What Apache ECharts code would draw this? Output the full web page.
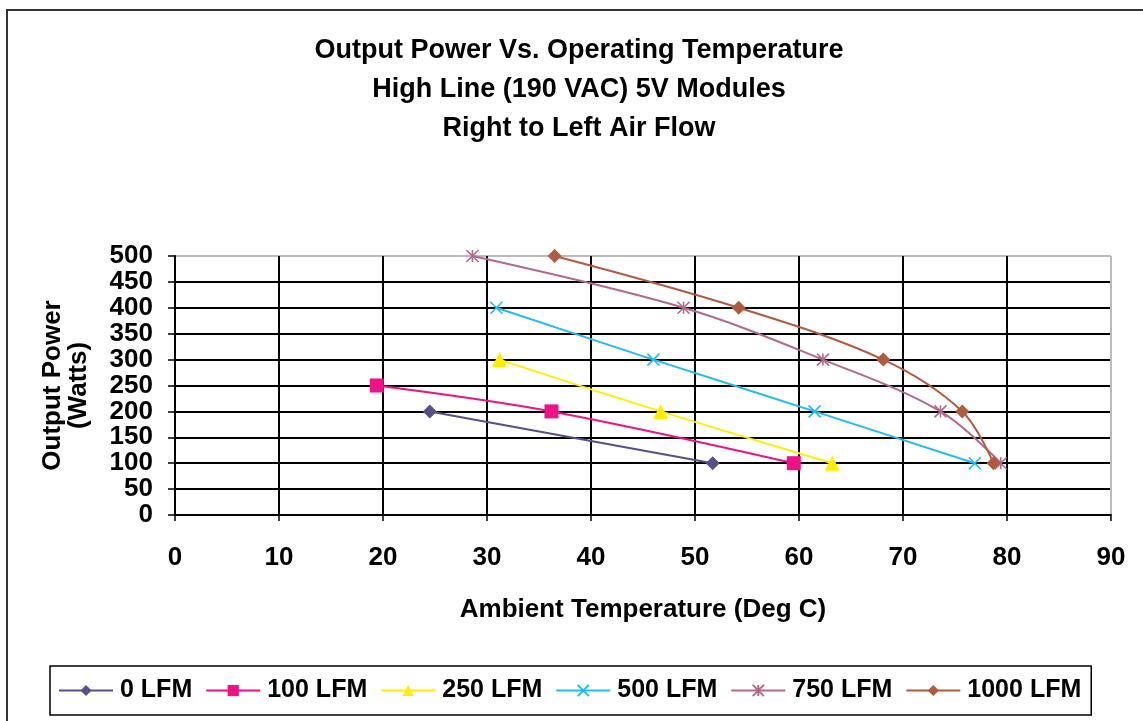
<!DOCTYPE html>
<html>
<head>
<meta charset="utf-8">
<script src="https://cdn.jsdelivr.net/npm/echarts@6/dist/echarts.min.js"></script>
<style>
html,body{margin:0;padding:0;background:#fff;}
#chart{width:1143px;height:721px;}
</style>
</head>
<body>
<div id="chart"></div>
<script>
const titleLines = ['Output Power Vs. Operating Temperature', 'High Line (190 VAC) 5V Modules', 'Right to Left Air Flow'];
const xTitle = 'Ambient Temperature (Deg C)';
const yTitle = 'Output Power\n(Watts)';
const seriesNames = ['0 LFM', '100 LFM', '250 LFM', '500 LFM', '750 LFM', '1000 LFM'];
const temp0 = [24.5, 51.7];
const power0 = [200, 100];
const temp100 = [19.4, 36.2, 59.5];
const power100 = [250, 200, 100];
const temp250 = [31.2, 46.7, 63.2];
const power250 = [300, 200, 100];
const temp500 = [30.9, 46.0, 61.5, 76.9];
const power500 = [400, 300, 200, 100];
const temp750 = [28.6, 48.9, 62.3, 73.6, 79.4];
const power750 = [500, 400, 300, 200, 100];
const temp1000 = [36.5, 54.2, 68.1, 75.7, 78.7];
const power1000 = [500, 400, 300, 200, 100];

const FONT = '"Liberation Sans", Arial, sans-serif';
const colors = ['#55508a', '#ee1188', '#ffee00', '#22bbee', '#b06a8c', '#b05a40'];
const symbols = [
  'diamond', 'rect', 'triangle',
  'path://M0,0L10,10M10,0L0,10',
  'path://M0,0L10,10M10,0L0,10M5,0L5,10',
  'diamond'
];
const symbolSizes = [14, 14, 15, 12, 12, 14];
const temps = [temp0, temp100, temp250, temp500, temp750, temp1000];
const powers = [power0, power100, power250, power500, power750, power1000];

const chart = echarts.init(document.getElementById('chart'));
const series = seriesNames.map((n, i) => ({
  name: n,
  type: 'line',
  data: temps[i].map((t, j) => [t, powers[i][j]]),
  smooth: 0.35,
  symbol: symbols[i],
  symbolSize: symbolSizes[i],
  lineStyle: { color: colors[i], width: 2 },
  itemStyle: { color: colors[i], borderColor: colors[i], borderWidth: i >= 3 && i <= 4 ? 1.6 : 0 },
  emphasis: { disabled: true },
  z: 3 + i
}));

const ySplitColors = [];
for (let v = 0; v <= 500; v += 50) ySplitColors.push(v === 500 ? '#bbbbbb' : '#000000');
const xSplitColors = [];
for (let v = 0; v <= 90; v += 10) xSplitColors.push(v === 90 ? '#bbbbbb' : '#000000');

chart.setOption({
  animation: false,
  backgroundColor: '#ffffff',
  textStyle: { fontFamily: FONT },
  graphic: [
    { type: 'rect', shape: { x: 7, y: 10, width: 1300, height: 900 }, style: { fill: 'none', stroke: '#333', lineWidth: 2 }, z: -1 },
    { type: 'text', style: { x: 579, y: 90, text: titleLines.join('\n'), textAlign: 'center', textVerticalAlign: 'middle', font: 'bold 27px ' + FONT, lineHeight: 39, fill: '#000' } }
  ],
  grid: { left: 175, right: 32, top: 256, bottom: 206, show: true, borderColor: '#bbbbbb', borderWidth: 1 },
  legend: {
    data: seriesNames,
    left: 50, top: 666,
    padding: [12, 10, 12, 8],
    itemGap: 13,
    itemWidth: 54, itemHeight: 14,
    borderColor: '#000', borderWidth: 1.5,
    textStyle: { fontFamily: FONT, fontSize: 25, fontWeight: 'bold', color: '#000', padding: [0, 0, 0, 2] }
  },
  xAxis: {
    type: 'value', min: 0, max: 90, interval: 10,
    name: xTitle, nameLocation: 'middle', nameGap: 82,
    nameTextStyle: { fontFamily: FONT, fontSize: 26, fontWeight: 'bold', color: '#000' },
    axisLine: { show: true, lineStyle: { color: '#000', width: 2 } },
    axisTick: { show: true, length: 6, lineStyle: { color: '#000', width: 1.5 } },
    axisLabel: { margin: 30, fontFamily: FONT, fontSize: 26, fontWeight: 'bold', color: '#000' },
    splitLine: { show: true, lineStyle: { color: xSplitColors, width: 2 } }
  },
  yAxis: {
    type: 'value', min: 0, max: 500, interval: 50,
    name: yTitle, nameLocation: 'middle', nameGap: 83, nameRotate: 90,
    nameTextStyle: { fontFamily: FONT, fontSize: 26, fontWeight: 'bold', color: '#000', lineHeight: 26 },
    axisLine: { show: true, lineStyle: { color: '#000', width: 2 } },
    axisTick: { show: true, length: 7, lineStyle: { color: '#000', width: 1.5 } },
    axisLabel: { margin: 22, fontFamily: FONT, fontSize: 26, fontWeight: 'bold', color: '#000' },
    splitLine: { show: true, lineStyle: { color: ySplitColors, width: 2 } }
  },
  series: series
});
</script>
</body>
</html>
